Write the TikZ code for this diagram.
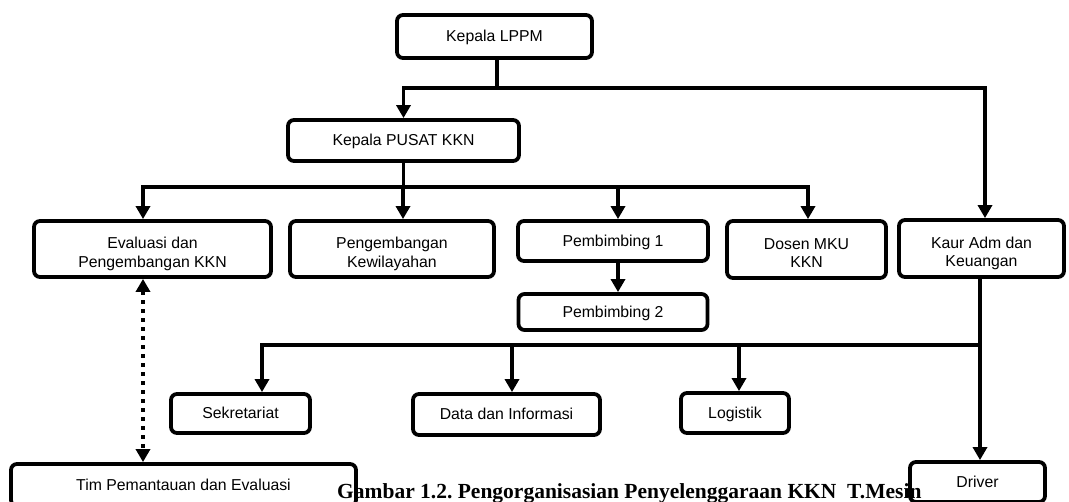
\documentclass[tikz,border=0pt]{standalone}
\usepackage{fontspec}
\setmainfont{Liberation Sans}
\newfontfamily\captionfont{Liberation Serif}
\usetikzlibrary{arrows.meta}

\begin{document}
\begin{tikzpicture}[x=1pt,y=-1pt]
        \tikzset{BoxStyle/.style={draw, line width=3.8pt, rounded corners=6pt,
            align=center, inner sep=0pt, text height=14.5pt, text depth=3.5pt,
            font=\fontsize{15.8}{18.7}\selectfont}}
        \tikzset{TwoLineStyle/.style={BoxStyle, text height=40.5pt}}
        \tikzset{LinkStyle/.style={line width=3.8pt,
            -{Triangle[width=14pt,length=13pt]}}}
        \tikzset{DotStyle/.style={line width=3.8pt,
            {Triangle[width=14pt,length=13pt]}-{Triangle[width=14pt,length=13pt]},
            dash pattern=on 4pt off 5pt}}

        \useasboundingbox (0,0) rectangle (1069,502);
        \clip (0,0) rectangle (1069,502);

        % caption sits under the boxes
        \node[anchor=base west, inner sep=0pt,
          font={\captionfont\fontsize{21.5}{24}\selectfont\bfseries\frenchspacing}]
          (caption) at (337,499) {Gambar 1.2. Pengorganisasian Penyelenggaraan KKN\ \ T.Mesin};

        \node[BoxStyle, minimum width=195pt, minimum height=43pt] (lppm) at (494.5,36.5) {Kepala LPPM};
        \node[BoxStyle, minimum width=231pt, minimum height=41pt] (pusat) at (403.5,140.5) {Kepala PUSAT KKN};

        \node[TwoLineStyle, minimum width=237pt, minimum height=56pt] (eval) at (152.5,249) {Evaluasi dan\\Pengembangan KKN};
        \node[TwoLineStyle, minimum width=204pt, minimum height=56pt] (kew) at (392,249) {Pengembangan\\Kewilayahan};
        \node[BoxStyle, minimum width=190pt, minimum height=40pt] (pemb1) at (613,241) {Pembimbing 1};
        \node[TwoLineStyle, minimum width=159pt, minimum height=57pt] (dosen) at (806.5,249.5) {Dosen MKU\\KKN};
        \node[TwoLineStyle, minimum width=165pt, minimum height=57pt] (kaur) at (981.5,248.5) {Kaur Adm dan\\Keuangan};
        \node[BoxStyle, minimum width=189pt, minimum height=36pt] (pemb2) at (613,312) {Pembimbing 2};

        \node[BoxStyle, minimum width=139pt, minimum height=39pt] (sekr) at (240.5,413.5) {Sekretariat};
        \node[BoxStyle, minimum width=187pt, minimum height=41pt] (data) at (506.5,414.5) {Data dan Informasi};
        \node[BoxStyle, minimum width=108pt, minimum height=40pt] (logi) at (735,413) {Logistik};

        \node[BoxStyle, minimum width=345pt, minimum height=42pt] (tim) at (183.5,485) {Tim Pemantauan dan Evaluasi};
        \node[BoxStyle, minimum width=135pt, minimum height=40pt] (driver) at (977.5,482) {Driver};

        \coordinate (jLppm) at (497,88);
        \coordinate (jPusat) at (403.5,187);
        \coordinate (jKaur) at (980,345);

        \draw[LinkStyle] (lppm.south -| jLppm) -- (jLppm) -| (pusat.north);
        \draw[LinkStyle] (lppm.south -| jLppm) -- (jLppm) -| ([xshift=3.5pt]kaur.north);

        \draw[LinkStyle] (pusat.south) -- (jPusat) -| ([xshift=-9.5pt]eval.north);
        \draw[LinkStyle] (pusat.south) -- (jPusat) -| ([xshift=11pt]kew.north);
        \draw[LinkStyle] (pusat.south) -- (jPusat) -| ([xshift=5pt]pemb1.north);
        \draw[LinkStyle] (pusat.south) -- (jPusat) -| ([xshift=1.5pt]dosen.north);
        \draw[LinkStyle] ([xshift=5pt]pemb1.south) -- ([xshift=5pt]pemb2.north);

        \draw[LinkStyle] (kaur.south -| jKaur) -- (jKaur) -| ([xshift=21.5pt]sekr.north);
        \draw[LinkStyle] (kaur.south -| jKaur) -- (jKaur) -| ([xshift=5.5pt]data.north);
        \draw[LinkStyle] (kaur.south -| jKaur) -- (jKaur) -| ([xshift=4pt]logi.north);
        \draw[LinkStyle] (kaur.south -| jKaur) -- (driver.north -| jKaur);

        \draw[DotStyle] ([xshift=-9.5pt]eval.south) -- ([xshift=-40.5pt]tim.north);
\end{tikzpicture}
\end{document}
